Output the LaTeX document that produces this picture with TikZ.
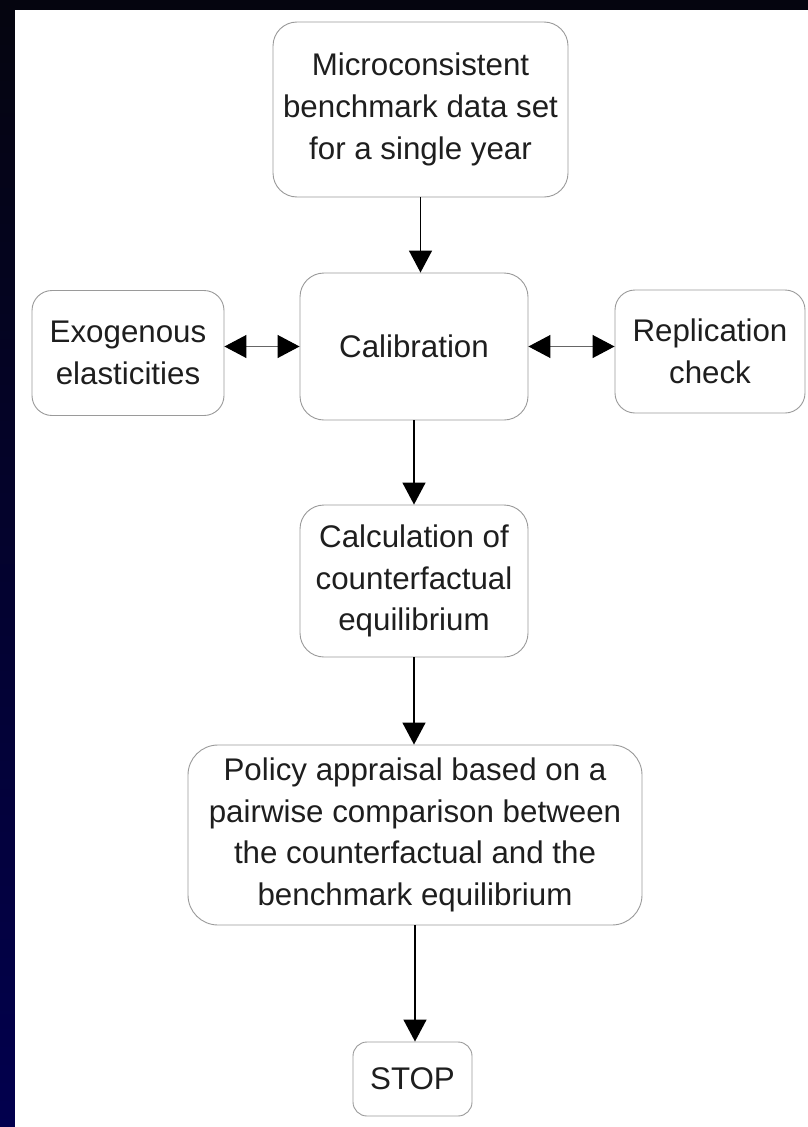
\documentclass[tikz,border=0pt]{standalone}
\usepackage{fontspec}
\setmainfont{Liberation Sans}
\usetikzlibrary{arrows.meta, positioning}
\definecolor{frameblack}{HTML}{05050F}
\definecolor{framenavy}{HTML}{02004E}
\definecolor{boxgray}{HTML}{9A9A9A}
\definecolor{textgray}{HTML}{1E1E1E}
\tikzset{
  stage/.style = {
    draw=boxgray, line width=0.9pt, rounded corners=24pt, fill=white,
    align=center, inner sep=0pt, text=textgray,
    font=\fontsize{31.3}{41.7}\selectfont
  },
  flow/.style = {
    line width=1.5pt, -{Triangle[length=22pt, width=23pt]}
  },
  both/.style = {
    draw=gray!80!black, line width=1.2pt,
    {Triangle[length=22pt, width=23pt, black]}-{Triangle[length=22pt, width=23pt, black]}
  }
}

\begin{document}
\begin{tikzpicture}[x=1pt, y=-1pt]

    % Frame
    \useasboundingbox (0,0) rectangle (808,1127);
    \shade[top color=frameblack, bottom color=framenavy] (0,0) rectangle (15,1127);
    \fill[frameblack] (0,0) rectangle (808,10);
    \fill[white] (15,10) rectangle (808,1127);

    % Stages
    \node[stage, minimum width=295pt, minimum height=175pt] (data) at (420.5,109.5)
        {Microconsistent\\benchmark data set\\for a single year};
    \node[stage, minimum width=228pt, minimum height=147pt] (calib) at (414,346.5)
        {Calibration};
    \node[stage, minimum width=192pt, minimum height=125pt, rounded corners=20pt] (exo) at (128,353)
        {Exogenous\\elasticities};
    \node[stage, minimum width=190pt, minimum height=123pt, rounded corners=20pt] (repl) at (710,351.5)
        {Replication\\check};
    \node[stage, minimum width=228pt, minimum height=152pt] (calc) at (414,581)
        {Calculation of\\counterfactual\\ equilibrium};
    \node[stage, minimum width=454pt, minimum height=180pt, rounded corners=30pt] (policy) at (415,835)
        {Policy appraisal based on a\\pairwise comparison between\\the counterfactual and the\\benchmark equilibrium};
    \node[stage, minimum width=119pt, minimum height=74pt, rounded corners=14pt] (stop) at (412.5,1079)
        {STOP};

    % Connectors
    \draw[flow] (data.south) -- (data.south |- calib.north);
    \draw[both] (exo.east |- calib.west) -- (calib.west);
    \draw[both] (calib.east) -- (repl.west |- calib.east);
    \draw[flow] (calib.south) -- (calc.north);
    \draw[flow] (calc.south) -- (calc.south |- policy.north);
    \draw[flow] (policy.south) -- (policy.south |- stop.north);

\end{tikzpicture}
\end{document}
